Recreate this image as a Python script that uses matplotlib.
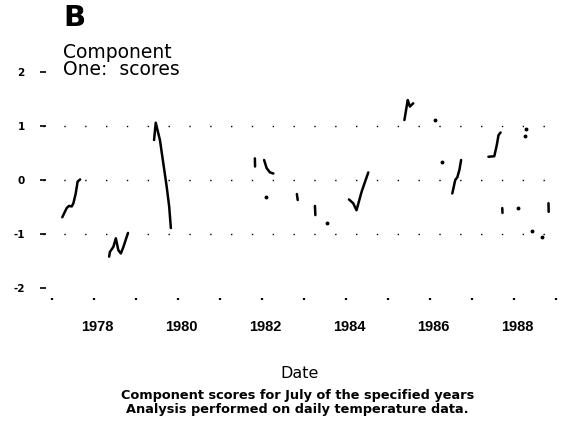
import numpy as np
import matplotlib
matplotlib.use("Agg")
import matplotlib.pyplot as plt
from matplotlib.ticker import FixedLocator
from matplotlib.transforms import ScaledTranslation

# --- Component One scores, July of each year (decimal year, score) ---
t_1977 = [1977.245, 1977.35, 1977.405, 1977.47, 1977.51, 1977.565, 1977.61, 1977.67]
v_1977 = [-0.69, -0.52, -0.48, -0.49, -0.43, -0.25, -0.03, 0.01]

t_1978 = [1978.36, 1978.38, 1978.46, 1978.52, 1978.58, 1978.64, 1978.70, 1978.78, 1978.81]
v_1978 = [-1.42, -1.33, -1.24, -1.08, -1.30, -1.36, -1.24, -1.05, -0.98]

t_1979 = [1979.43, 1979.47, 1979.57, 1979.65, 1979.73, 1979.79, 1979.83]
v_1979 = [0.74, 1.06, 0.74, 0.31, -0.12, -0.49, -0.89]

t_1981 = [1981.83, 1981.835]
v_1981 = [0.40, 0.25]

t_1982 = [1982.05, 1982.11, 1982.19, 1982.27]
v_1982 = [0.37, 0.22, 0.14, 0.12]

t_1982b = [1982.83, 1982.85]
v_1982b = [-0.26, -0.37]

t_1983 = [1983.26, 1983.27]
v_1983 = [-0.48, -0.65]

t_1984 = [1984.07, 1984.17, 1984.25, 1984.37, 1984.53]
v_1984 = [-0.36, -0.43, -0.56, -0.22, 0.14]

t_1985 = [1985.39, 1985.45, 1985.47, 1985.52, 1985.60]
v_1985 = [1.11, 1.39, 1.48, 1.36, 1.42]

t_1986 = [1986.53, 1986.60, 1986.65, 1986.70, 1986.74]
v_1986 = [-0.25, 0.0, 0.05, 0.19, 0.37]

t_1987 = [1987.39, 1987.53, 1987.59, 1987.63, 1987.68]
v_1987 = [0.43, 0.44, 0.65, 0.83, 0.88]

t_1987b = [1987.72, 1987.725]
v_1987b = [-0.52, -0.61]

t_1988 = [1988.82, 1988.825]
v_1988 = [-0.43, -0.59]

# single-day readings
t_single = [1982.10, 1983.54, 1986.28, 1988.29, 1988.26, 1988.10, 1988.42, 1988.66, 1986.12]
v_single = [-0.31, -0.79, 0.34, 0.94, 0.81, -0.52, -0.94, -1.05, 1.11]

segments = [
    (t_1977, v_1977), (t_1978, v_1978), (t_1979, v_1979), (t_1981, v_1981),
    (t_1982, v_1982), (t_1982b, v_1982b), (t_1983, v_1983), (t_1984, v_1984),
    (t_1985, v_1985), (t_1986, v_1986), (t_1987, v_1987), (t_1987b, v_1987b),
    (t_1988, v_1988),
]

year_ticks = [1978, 1980, 1982, 1984, 1986, 1988]
year_minor = [1977, 1979, 1981, 1983, 1985, 1987, 1989]
score_ticks = [-2, -1, 0, 1, 2]
score_labels = ["-2", "-1", "0", "1", "2"]

fig = plt.figure(figsize=(5.62, 4.24), dpi=100)
ax = fig.add_axes([0.0765, 0.2972, 0.920, 0.5585])

for t, v in segments:
    ax.plot(t, v, color="black", lw=1.8, solid_capstyle="round")
ax.plot(t_single, v_single, ls="none", marker="o", ms=1.8, color="black")

# sparse dotted reference lines
for level in (1, 0, -1):
    ax.axhline(level, color="black", lw=1.0, dashes=(1, 14), zorder=0)

ax.set_xlim(1976.786, 1989.095)
ax.set_ylim(-2.185, 2.2)

for s in ax.spines.values():
    s.set_visible(False)

ax.xaxis.set_major_locator(FixedLocator(year_ticks))
ax.xaxis.set_minor_locator(FixedLocator(year_minor))
ax.set_xticklabels([str(y) for y in year_ticks], fontfamily="Liberation Sans",
                   fontweight="bold", fontsize=10.5)
ax.tick_params(axis="x", which="both", direction="out", length=1.5, width=1.6, pad=14)
shift = ScaledTranslation(3 / 100, 0, fig.dpi_scale_trans)
for lbl in ax.get_xticklabels():
    lbl.set_transform(lbl.get_transform() + shift)

ax.yaxis.set_major_locator(FixedLocator(score_ticks))
ax.set_yticklabels(score_labels, fontfamily="DejaVu Sans", fontweight="bold",
                   fontsize=7.5)
ax.tick_params(axis="y", direction="inout", length=4.5, width=1.2, pad=11)

fig.text(63 / 562, 1 - 4 / 424, "B", fontsize=21, fontweight="bold", va="top", ha="left")
fig.text(63 / 562, 1 - 43 / 424, "Component\nOne:  scores", fontsize=13.5, va="top",
         ha="left", linespacing=0.88)

fig.text(300 / 562, 1 - 374 / 424, "Date", fontsize=11.5, ha="center", va="center")
fig.text(298 / 562, 1 - 395 / 424, "Component scores for July of the specified years",
         fontsize=9.3, fontweight="bold", ha="center", va="center")
fig.text(297 / 562, 1 - 410 / 424, "Analysis performed on daily temperature data.",
         fontsize=9.3, fontweight="bold", ha="center", va="center")

fig.savefig("out.png", dpi=100)
